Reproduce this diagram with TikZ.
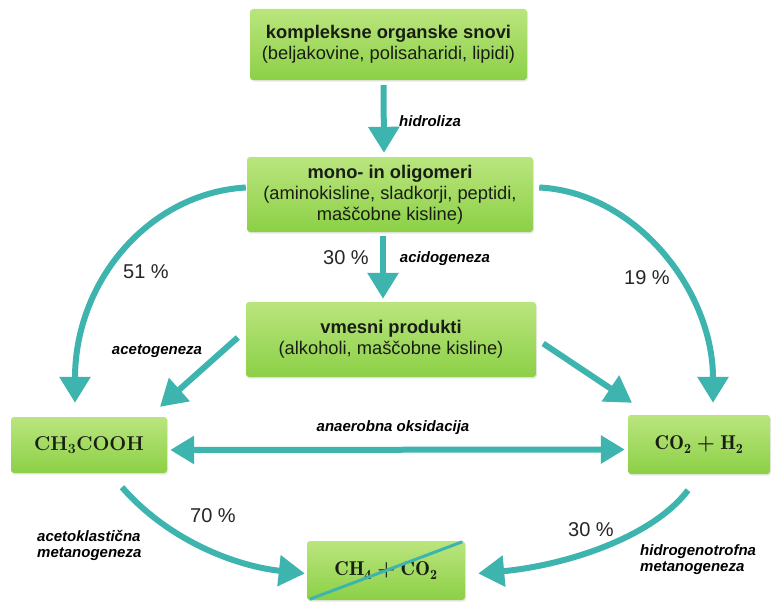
\documentclass[tikz,border=0pt]{standalone}
\usepackage{fontspec}
\setsansfont{Liberation Sans}
\usetikzlibrary{arrows.meta,calc,shadows}
\definecolor{teal1}{RGB}{62,180,174}
\definecolor{gtop}{RGB}{186,229,126}
\definecolor{gbot}{RGB}{140,208,70}
\definecolor{txt}{RGB}{25,30,20}
\tikzset{
  box/.style={rectangle, rounded corners=3pt, top color=gtop, bottom color=gbot,
    draw=none, inner sep=0pt, align=center, text=txt,
    drop shadow={shadow xshift=1pt, shadow yshift=-1.5pt, opacity=0.18},
    font=\sffamily\fontsize{18.3}{21}\selectfont},
  chem/.style={box, font=\rmfamily\bfseries\boldmath\fontsize{20}{24}\selectfont},
  flow/.style={draw=teal1, line width=6pt, -{Triangle[width=30pt,length=26pt]}},
  flowboth/.style={draw=teal1, line width=6pt, {Triangle[width=27pt,length=24pt]}-{Triangle[width=27pt,length=24pt]}},
  proc/.style={font=\sffamily\bfseries\itshape\fontsize{15}{16}\selectfont, text=black, inner sep=0pt, align=left},
  pct/.style={font=\sffamily\fontsize{20}{22}\selectfont, text=black!85, inner sep=0pt}
}
\begin{document}
\begin{tikzpicture}[x=1pt,y=-1pt]
\useasboundingbox (0,0) rectangle (776,602);
\fill[white] (0,0) rectangle (776,602);
% boxes
\node[box, minimum width=277pt, minimum height=71pt] (top) at (388.5,44.5)
  {\textbf{kompleksne organske snovi}\\(beljakovine, polisaharidi, lipidi)};
\node[box, minimum width=286pt, minimum height=75pt] (mono) at (390,194.5)
  {\textbf{mono- in oligomeri}\\(aminokisline, sladkorji, peptidi,\\maščobne kisline)};
\node[box, minimum width=290pt, minimum height=75pt] (vm) at (391,339.5)
  {\textbf{vmesni produkti}\\(alkoholi, maščobne kisline)};
\node[chem, minimum width=156pt, minimum height=56pt] (ch3) at (89,445)
  {CH\textsubscript{3}COOH};
\node[chem, minimum width=142pt, minimum height=59pt] (co2) at (699,444.5)
  {$\mathrm{CO_2+H_2}$};
\node[chem, minimum width=158pt, minimum height=59pt] (ch4) at (386,570.5)
  {$\mathrm{CH_4+CO_2}$};
\draw[teal1, line width=3pt] ([shift={(3,-1)}]ch4.south west) -- ([shift={(-3,1)}]ch4.north east);
% straight arrows
\draw[flow] ([shift={(-5,5)}]top.south) -- ([shift={(-6,-4)}]mono.north);
\draw[flow] ([shift={(-7,4)}]mono.south) -- ([shift={(-8,-3)}]vm.north);
\draw[flow] ([shift={(-8,-2)}]vm.west) -- ([shift={(71,-10)}]ch3.north);
\draw[flow] ([shift={(7,4)}]vm.east) -- ([shift={(-67,-12)}]co2.north);
\draw[flowboth] ([shift={(3,5)}]ch3.east) -- ([shift={(-3,5)}]co2.west);
% curved arrows
\draw[flow] ([shift={(-1,-7)}]mono.west) .. controls (150,193) and (75,280) .. ([shift={(-14,-14)}]ch3.north);
\draw[flow] ([shift={(6,-7)}]mono.east) .. controls (635,192) and (713,290) .. ([shift={(14,-12)}]co2.north);
\draw[flow] ([shift={(33,14)}]ch3.south) .. controls (168,540) and (235,566) .. ([shift={(-2,3)}]ch4.west);
\draw[flow] ([shift={(-11,16)}]co2.south) .. controls (650,540) and (560,566) .. ([shift={(13,3)}]ch4.east);
% labels
\node[proc] (lhid) at (430,121) {hidroliza};
\node[proc] (lacid) at (445,259) {acidogeneza};
\node[proc] (lacet) at (157,351) {acetogeneza};
\node[proc] (lana) at (393,428) {anaerobna oksidacija};
\node[proc, anchor=west] (lakl) at (37,545) {acetoklastična\\metanogeneza};
\node[proc, anchor=west] (lhyd) at (640,560) {hidrogenotrofna\\metanogeneza};
\node[pct] (p30a) at (346,258) {30 \%};
\node[pct] (p51) at (146,272) {51 \%};
\node[pct] (p19) at (647,278) {19 \%};
\node[pct] (p70) at (213,516) {70 \%};
\node[pct] (p30b) at (591,530) {30 \%};
\end{tikzpicture}
\end{document}
